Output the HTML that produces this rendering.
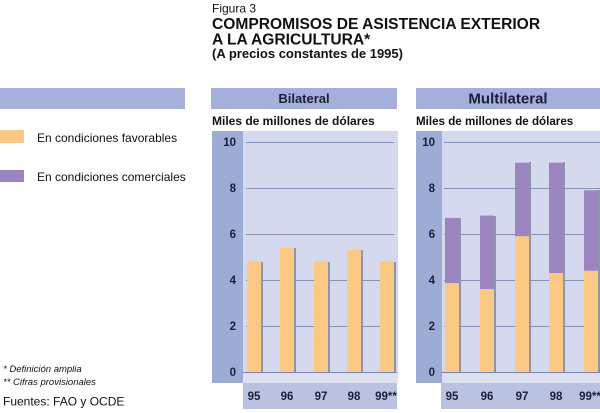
<!DOCTYPE html>
<html><head><meta charset="utf-8"><style>
html,body{margin:0;padding:0;background:#fff;}
svg{display:block;}
text{font-family:"Liberation Sans",Arial,sans-serif;}
</style></head><body>
<svg width="600" height="413" viewBox="0 0 600 413" xmlns="http://www.w3.org/2000/svg">
<rect width="600" height="413" fill="#fff"/>
<!-- Title -->
<text x="212" y="12.5" font-size="12" fill="#111">Figura 3</text>
<text x="212" y="29" font-size="15.6" font-weight="bold" fill="#111">COMPROMISOS DE ASISTENCIA EXTERIOR</text>
<text x="212" y="44.5" font-size="15.6" font-weight="bold" fill="#111">A LA AGRICULTURA*</text>
<text x="212" y="58" font-size="13" font-weight="bold" fill="#111">(A precios constantes de 1995)</text>

<!-- Legend -->
<rect x="0" y="88" width="185" height="21" fill="#a7b2da"/>
<rect x="0" y="130" width="24" height="13" fill="#fcc985"/>
<text x="37" y="142" font-size="12" fill="#111">En condiciones favorables</text>
<rect x="0" y="170" width="24" height="12" fill="#9b84bf"/>
<text x="37" y="181" font-size="12" fill="#111">En condiciones comerciales</text>

<!-- Footnotes -->
<text x="3" y="372" font-size="9.5" font-style="italic" fill="#111">* Definición amplia</text>
<text x="3" y="385" font-size="9.5" font-style="italic" fill="#111">** Cifras provisionales</text>
<text x="3" y="405.5" font-size="12" fill="#111">Fuentes: FAO y OCDE</text>

<!-- Bilateral panel -->
<rect x="211" y="88" width="186" height="21" fill="#a4b0d9"/>
<text x="304" y="103" font-size="13" font-weight="bold" fill="#1a1f3a" text-anchor="middle">Bilateral</text>
<text x="212" y="125" font-size="12" font-weight="bold" fill="#111">Miles de millones de dólares</text>
<rect x="243" y="131" width="155" height="252" fill="#d4d9ee"/>
<rect x="243" y="373" width="155" height="10" fill="#dce0f0"/>
<rect x="212" y="131" width="31" height="252" fill="#9eabd5"/>
<rect x="243" y="383" width="154" height="26" fill="#bac2e1"/>
<g stroke="#8a91b8" stroke-width="1">
<line x1="246" y1="142.5" x2="394" y2="142.5"/>
<line x1="246" y1="188.5" x2="394" y2="188.5"/>
<line x1="246" y1="234.5" x2="394" y2="234.5"/>
<line x1="246" y1="280.5" x2="394" y2="280.5"/>
<line x1="246" y1="326.5" x2="394" y2="326.5"/>
<line x1="243" y1="372.5" x2="397" y2="372.5" stroke="#7d84a8"/>
</g>
<g font-size="11.5" font-weight="bold" fill="#1a1f3a" text-anchor="end">
<text x="236" y="146">10</text><text x="236" y="192">8</text><text x="236" y="238">6</text>
<text x="236" y="284">4</text><text x="236" y="330">2</text><text x="236" y="376">0</text>
</g>
<g fill="#8f94ad">
<rect x="261" y="262" width="2" height="110"/>
<rect x="294" y="248" width="2" height="124"/>
<rect x="328" y="262" width="2" height="110"/>
<rect x="361" y="250" width="2" height="122"/>
<rect x="394" y="262" width="2" height="110"/>
</g>
<g fill="#fcc985">
<rect x="247" y="261.6" width="14" height="110.4"/>
<rect x="280" y="247.8" width="14" height="124.2"/>
<rect x="314" y="261.6" width="14" height="110.4"/>
<rect x="347" y="250.1" width="14" height="121.9"/>
<rect x="380" y="261.6" width="14" height="110.4"/>
</g>
<g font-size="11.5" font-weight="bold" fill="#1a1f3a" text-anchor="middle">
<text x="254" y="400">95</text><text x="287" y="400">96</text><text x="321" y="400">97</text>
<text x="354" y="400">98</text><text x="386" y="400">99**</text>
</g>

<!-- Multilateral panel -->
<rect x="416" y="88" width="184" height="21" fill="#a4b0d9"/>
<text x="508" y="103.3" font-size="15" font-weight="bold" fill="#1a1f3a" text-anchor="middle">Multilateral</text>
<text x="416" y="125" font-size="11.6" font-weight="bold" fill="#111">Miles de millones de dólares</text>
<rect x="441" y="131" width="159" height="252" fill="#d4d9ee"/>
<rect x="441" y="373" width="159" height="10" fill="#dce0f0"/>
<rect x="416" y="131" width="26" height="252" fill="#9eabd5"/>
<rect x="441" y="383" width="159" height="26" fill="#bac2e1"/>
<g stroke="#8a91b8" stroke-width="1">
<line x1="444" y1="142.5" x2="600" y2="142.5"/>
<line x1="444" y1="188.5" x2="600" y2="188.5"/>
<line x1="444" y1="234.5" x2="600" y2="234.5"/>
<line x1="444" y1="280.5" x2="600" y2="280.5"/>
<line x1="444" y1="326.5" x2="600" y2="326.5"/>
<line x1="441" y1="372.5" x2="600" y2="372.5" stroke="#7d84a8"/>
</g>
<g font-size="11.5" font-weight="bold" fill="#1a1f3a" text-anchor="end">
<text x="435" y="146">10</text><text x="435" y="192">8</text><text x="435" y="238">6</text>
<text x="435" y="284">4</text><text x="435" y="330">2</text><text x="435" y="376">0</text>
</g>
<g fill="#8f94ad">
<rect x="459" y="218" width="2" height="154"/>
<rect x="494" y="216" width="2" height="156"/>
<rect x="529" y="162" width="2" height="210"/>
<rect x="563" y="162" width="2" height="210"/>
<rect x="598" y="190" width="2" height="182"/>
</g>
<g fill="#9b84bf">
<rect x="445" y="217.9" width="14" height="65.3"/>
<rect x="480" y="215.6" width="14" height="73.6"/>
<rect x="515" y="162.7" width="14" height="73.6"/>
<rect x="549" y="162.7" width="14" height="110.4"/>
<rect x="584" y="190.3" width="14" height="80.5"/>
</g>
<g fill="#fcc985">
<rect x="445" y="283.3" width="14" height="88.7"/>
<rect x="480" y="289.2" width="14" height="82.8"/>
<rect x="515" y="236.3" width="14" height="135.7"/>
<rect x="549" y="273.1" width="14" height="98.9"/>
<rect x="584" y="270.8" width="14" height="101.2"/>
</g>
<g font-size="11.5" font-weight="bold" fill="#1a1f3a" text-anchor="middle">
<text x="452" y="400">95</text><text x="487" y="400">96</text><text x="522" y="400">97</text>
<text x="556" y="400">98</text><text x="590" y="400">99**</text>
</g>
</svg>
</body></html>
